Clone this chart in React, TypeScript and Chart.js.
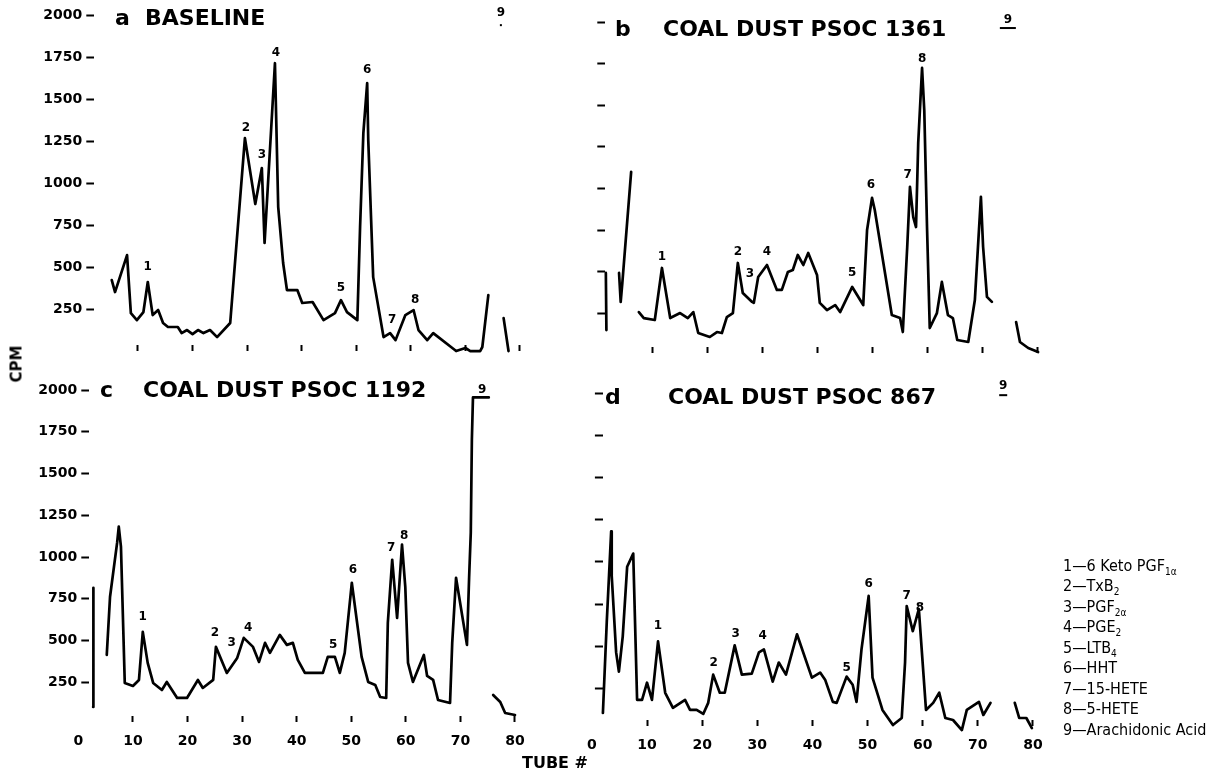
import React, { useEffect, useRef } from 'react';
import { Chart, registerables } from 'chart.js';
Chart.register(...registerables);

const PAGE_W = 1225;
const PAGE_H = 780;

// ---------- data (tube #, CPM); null = break in trace ----------
const tubesA = [5.2, 5.8, 8.0, 8.7, 9.8, 11.0, 11.8, 12.7, 13.7, 14.6, 15.5, 17.3, 18.0, 19.0, 20.0, 21.0, 22.0, 23.2, 24.5, 26.9, 29.6, 31.5, 32.7, 33.2, 35.1, 35.7, 36.6, 37.3, 39.2, 40.1, 42.0, 44.0, 46.1, 47.2, 48.3, 50.2, 50.7, 51.3, 52.0, 52.2, 53.1, 55.0, 56.2, 57.2, 59.0, 60.5, 61.4, 63.0, 64.1, 67.6, 68.3, 70.0, 70.9, 72.7, 73.1, 74.2, 75.5, 77.0, 77.9];
const cpmA = [422, 351, 571, 226, 184, 232, 411, 214, 244, 167, 143, 143, 107, 125, 101, 125, 107, 125, 83, 167, 1267, 875, 1089, 643, 1713, 857, 524, 363, 363, 286, 292, 184, 226, 303, 232, 184, 738, 1297, 1595, 1255, 440, 83, 107, 65, 214, 244, 125, 65, 107, 18, 0, 18, 0, 0, 24, 333, null, 196, 0];

const tubesB = [1.6, 1.7, 3.0, 4.0, 4.3, 4.6, 6.2, 7.0, 7.6, 8.5, 10.5, 11.8, 13.3, 15.1, 16.5, 17.5, 18.4, 20.5, 21.8, 22.7, 23.6, 24.7, 25.6, 26.5, 28.2, 28.5, 29.3, 30.9, 32.7, 33.6, 34.7, 35.6, 36.5, 37.5, 38.4, 40.0, 40.5, 41.8, 43.3, 44.2, 46.4, 48.4, 49.1, 50.0, 50.5, 53.6, 55.1, 55.6, 56.4, 56.9, 57.5, 58.0, 58.4, 59.1, 59.5, 60.0, 60.5, 61.8, 62.7, 63.8, 64.7, 65.5, 67.5, 68.7, 69.8, 70.2, 70.9, 71.8, 74.0, 76.2, 76.9, 78.4, 80.2];
const cpmB = [493, 150, null, 493, 319, 433, 1100, null, 258, 222, 210, 523, 222, 252, 222, 258, 132, 108, 138, 132, 228, 252, 553, 373, 319, 313, 469, 541, 391, 391, 499, 511, 601, 541, 613, 481, 313, 270, 300, 258, 409, 300, 751, 944, 871, 240, 222, 138, 649, 1010, 829, 769, 1274, 1725, 1472, 769, 162, 252, 439, 240, 222, 90, 78, 330, 950, 649, 349, 319, null, 198, 78, 42, 18];

const tubesC = [2.7, 2.75, 4.0, 5.2, 5.8, 7.1, 7.4, 7.8, 8.5, 10.0, 11.1, 11.8, 12.7, 13.7, 15.3, 16.2, 18.1, 19.9, 21.9, 22.8, 24.7, 25.2, 27.2, 29.1, 30.3, 32.0, 33.1, 34.2, 35.1, 36.9, 38.2, 39.3, 40.2, 41.5, 44.8, 45.7, 47.0, 47.9, 48.8, 50.1, 51.9, 53.1, 54.4, 55.3, 56.4, 56.7, 57.5, 58.4, 59.3, 59.9, 60.4, 61.3, 63.3, 63.9, 65.0, 65.9, 68.1, 68.5, 69.2, 71.2, 71.6, 71.9, 72.1, 72.3, 75.2, 75.6, 76.0, 77.3, 78.2, 80.0];
const cpmC = [102, 816, null, 414, 762, 1086, 1182, 1062, 246, 228, 264, 552, 366, 246, 204, 252, 156, 156, 264, 216, 264, 462, 306, 396, 516, 462, 372, 486, 426, 534, 474, 486, 384, 306, 306, 402, 402, 306, 426, 846, 402, 252, 234, 162, 156, 606, 984, 636, 1074, 822, 366, 252, 414, 288, 264, 144, 126, 486, 876, 474, 882, 1146, 1704, 1956, 1956, null, 174, 132, 66, 54];

const tubesD = [2.0, 2.7, 3.5, 3.6, 4.4, 4.9, 5.6, 6.4, 7.5, 8.2, 9.1, 10.0, 10.9, 12.0, 13.3, 14.7, 16.9, 17.8, 19.0, 20.2, 21.1, 22.0, 23.2, 24.1, 25.9, 27.2, 29.0, 30.3, 31.2, 32.8, 33.9, 35.2, 37.2, 39.9, 41.4, 42.3, 43.7, 44.4, 46.2, 47.3, 48.0, 48.9, 50.2, 50.9, 52.7, 54.6, 56.2, 56.8, 57.1, 58.2, 59.3, 60.6, 61.9, 63.0, 64.1, 65.5, 67.1, 68.0, 70.2, 71.0, 72.3, 74.5, 76.7, 77.5, 78.8, 79.8];
const cpmD = [102, 642, 1182, 918, 462, 348, 558, 972, 1050, 180, 180, 282, 180, 528, 222, 132, 180, 120, 120, 96, 162, 330, 222, 222, 504, 330, 336, 462, 480, 288, 402, 330, 570, 312, 342, 300, 168, 162, 318, 270, 168, 480, 798, 312, 120, 30, 72, 402, 738, 588, 720, 120, 162, 222, 72, 60, 0, 120, 168, 90, 162, null, 162, 72, 72, 12];

// peak identification numbers (placed at tube #, CPM)
const peakNames = ['1', '2', '3', '4', '5', '6', '7', '8', '9'];
const peakTubesA = [11.8, 29.8, 32.7, 35.3, 47.2, 52.0, 56.6, 60.8, 76.5];
const peakCpmA = [500, 1327, 1166, 1773, 375, 1672, 184, 303, 2011];
const peakTubesB = [11.8, 25.6, 27.8, 30.9, 46.4, 49.8, 56.5, 59.1, 74.7];
const peakCpmB = [589, 619, 487, 619, 493, 1022, 1082, 1779, 2013];
const peakTubesC = [11.8, 25.0, 28.1, 31.1, 46.7, 50.3, 57.3, 59.7, 74.0];
const peakCpmC = [642, 546, 486, 576, 474, 924, 1056, 1128, 2004];
const peakTubesD = [12.0, 22.1, 26.1, 31.0, 46.2, 50.2, 57.1, 59.5, 74.6];
const peakCpmD = [618, 402, 570, 558, 372, 870, 798, 726, 2046];

const cpmTicks = [250, 500, 750, 1000, 1250, 1500, 1750, 2000];
const tubeTicks = [10, 20, 30, 40, 50, 60, 70, 80];
const tubeLabelTicks = [0, 10, 20, 30, 40, 50, 60, 70, 80];

const legendNums = ['1', '2', '3', '4', '5', '6', '7', '8', '9'];
const legendNames = ['6 Keto PGF', 'TxB', 'PGF', 'PGE', 'LTB', 'HHT', '15-HETE', '5-HETE', 'Arachidonic Acid'];
const legendSubs = ['1\u03B1', '2', '2\u03B1', '2', '4', '', '', '', ''];

// ---------- layout ----------
type Panel = {
  tubes: number[]; cpm: (number | null)[];
  peakTubes: number[]; peakCpm: number[];
  area: { left: number; top: number; right: number; bottom: number };
  xMin: number; xMax: number; yMin: number; yMax: number;
  yLabels: boolean; xLabels: boolean; nineMark: number; nineMarkDy: number; xPad: number;
};

const panels: Panel[] = [
  { tubes: tubesA, cpm: cpmA, peakTubes: peakTubesA, peakCpm: peakCpmA,
    area: { left: 94.3, top: 15, right: 530.9, bottom: 345 }, xMin: 2, xMax: 82, yMin: 36, yMax: 2000,
    yLabels: true, xLabels: false, nineMark: 2, nineMarkDy: 12, xPad: 10 },
  { tubes: tubesB, cpm: cpmB, peakTubes: peakTubesB, peakCpm: peakCpmB,
    area: { left: 605.3, top: 22.2, right: 1048, bottom: 347 }, xMin: 1.5, xMax: 82, yMin: 48, yMax: 2000,
    yLabels: false, xLabels: false, nineMark: 16, nineMarkDy: 8, xPad: 10 },
  { tubes: tubesC, cpm: cpmC, peakTubes: peakTubesC, peakCpm: peakCpmC,
    area: { left: 89.3, top: 390.1, right: 525.9, bottom: 716 }, xMin: 2, xMax: 82, yMin: 48, yMax: 2000,
    yLabels: true, xLabels: true, nineMark: 0, nineMarkDy: 0, xPad: 11 },
  { tubes: tubesD, cpm: cpmD, peakTubes: peakTubesD, peakCpm: peakCpmD,
    area: { left: 602.9, top: 393.9, right: 1044, bottom: 720 }, xMin: 2, xMax: 82, yMin: 60, yMax: 2000,
    yLabels: false, xLabels: true, nineMark: 8, nineMarkDy: 9, xPad: 11 },
];

const tickFont = { family: '"DejaVu Sans", sans-serif', size: 14, weight: 'bold' as const };

const peakLabelPlugin = {
  id: 'peakLabels',
  afterDatasetsDraw(chart: any, _args: any, opts: any) {
    const { ctx } = chart;
    const xs = chart.scales.x;
    const ys = chart.scales.y;
    ctx.save();
    ctx.font = 'bold 12px "DejaVu Sans", sans-serif';
    ctx.fillStyle = '#000';
    ctx.textAlign = 'center';
    ctx.textBaseline = 'middle';
    (opts.names || []).forEach((n: string, i: number) => {
      const px = xs.getPixelForValue(opts.tubes[i]);
      const py = ys.getPixelForValue(opts.cpm[i]);
      ctx.fillText(n, px, py);
      if (n === '9' && opts.mark > 0) {
        ctx.fillRect(px - opts.mark / 2, py + opts.markDy - 1, opts.mark, 2);
      }
    });
    ctx.restore();
  },
};

function PanelChart({ p }: { p: Panel }) {
  const ref = useRef<HTMLCanvasElement | null>(null);
  useEffect(() => {
    if (!ref.current) return;
    const yW = p.yLabels ? 90 : 40;
    const xH = 40;
    const chart = new Chart(ref.current, {
      type: 'line',
      data: {
        datasets: [{
          data: p.tubes.map((t, i) => ({ x: t, y: p.cpm[i] })) as any,
          borderColor: '#000',
          borderWidth: 2.7,
          borderJoinStyle: 'round',
          borderCapStyle: 'round',
          pointRadius: 0,
          tension: 0,
          fill: false,
          spanGaps: false,
          clip: false as any,
        }],
      },
      options: {
        responsive: false,
        animation: false,
        events: [],
        layout: {
          padding: {
            left: p.area.left - yW,
            top: p.area.top,
            right: PAGE_W - p.area.right,
            bottom: PAGE_H - p.area.bottom - xH,
          },
        },
        plugins: {
          legend: { display: false },
          tooltip: { enabled: false },
          peakLabels: { names: peakNames, tubes: p.peakTubes, cpm: p.peakCpm, mark: p.nineMark, markDy: p.nineMarkDy },
        } as any,
        scales: {
          x: {
            type: 'linear',
            min: p.xMin,
            max: p.xMax,
            afterBuildTicks: (s: any) => { s.ticks = (p.xLabels ? tubeLabelTicks : tubeTicks).map((v) => ({ value: v })); },
            afterFit: (s: any) => { s.height = xH; s.paddingLeft = 0; s.paddingRight = 0; },
            border: { display: false },
            grid: {
              display: true, drawOnChartArea: false, drawTicks: true, tickLength: 6, tickWidth: 2,
              tickColor: (c: any) => (c.tick && c.tick.value === 0 ? 'rgba(0,0,0,0)' : '#000'),
            },
            ticks: {
              display: p.xLabels, autoSkip: false, maxRotation: 0, padding: p.xPad,
              color: '#000', font: tickFont, callback: (v: any) => String(v),
            },
          },
          y: {
            type: 'linear',
            min: p.yMin,
            max: p.yMax,
            afterBuildTicks: (s: any) => { s.ticks = cpmTicks.map((v) => ({ value: v })); },
            afterFit: (s: any) => { s.width = yW; s.paddingTop = 0; s.paddingBottom = 0; },
            border: { display: false },
            grid: { display: true, drawOnChartArea: false, drawTicks: true, tickLength: 8, tickWidth: 2, tickColor: '#000' },
            ticks: {
              display: p.yLabels, padding: 4, color: '#000', font: tickFont,
              callback: (v: any) => String(v),
            },
          },
        },
      },
      plugins: [peakLabelPlugin],
    });
    return () => chart.destroy();
  }, [p]);
  return (
    <canvas
      ref={ref}
      width={PAGE_W}
      height={PAGE_H}
      style={{ position: 'absolute', left: 0, top: 0, width: PAGE_W, height: PAGE_H }}
    />
  );
}

const titleStyle: React.CSSProperties = {
  position: 'absolute', fontFamily: '"DejaVu Sans", sans-serif', fontWeight: 'bold',
  fontSize: 22, lineHeight: '22px', whiteSpace: 'nowrap', color: '#000',
};

export default function App() {
  return (
    <div style={{ position: 'absolute', left: 0, top: 0, width: PAGE_W, height: PAGE_H, background: '#fff', overflow: 'hidden' }}>
      {panels.map((p, i) => <PanelChart key={i} p={p} />)}

      <div style={{ ...titleStyle, left: 115, top: 7.4 }}>a</div>
      <div style={{ ...titleStyle, left: 145, top: 7.4 }}>BASELINE</div>
      <div style={{ ...titleStyle, left: 615, top: 18.4 }}>b</div>
      <div style={{ ...titleStyle, left: 663, top: 18.4 }}>COAL DUST PSOC 1361</div>
      <div style={{ ...titleStyle, left: 100, top: 379.4 }}>c</div>
      <div style={{ ...titleStyle, left: 143, top: 379.4 }}>COAL DUST PSOC 1192</div>
      <div style={{ ...titleStyle, left: 605, top: 386.4 }}>d</div>
      <div style={{ ...titleStyle, left: 668, top: 386.4 }}>COAL DUST PSOC 867</div>

      <div style={{
        position: 'absolute', left: 17, top: 364, transform: 'translate(-50%, -50%) rotate(-90deg)',
        fontFamily: '"DejaVu Sans", sans-serif', fontWeight: 'bold', fontSize: 15, lineHeight: '15px', whiteSpace: 'nowrap',
      }}>CPM</div>
      <div style={{
        position: 'absolute', left: 522, top: 755,
        fontFamily: '"DejaVu Sans", sans-serif', fontWeight: 'bold', fontSize: 16, lineHeight: '16px', whiteSpace: 'nowrap',
      }}>TUBE #</div>

      <div style={{
        position: 'absolute', left: 1063, top: 555.75,
        fontFamily: '"DejaVu Sans Condensed", "DejaVu Sans", sans-serif', fontSize: 16, lineHeight: '20.5px', color: '#000', whiteSpace: 'nowrap',
      }}>
        {legendNums.map((n, i) => (
          <div key={n} style={{ height: 20.5 }}>
            {n}{'\u2014'}{legendNames[i]}
            {legendSubs[i] ? (
              <span style={{ fontSize: 10, verticalAlign: '-4px', lineHeight: 0 }}>{legendSubs[i]}</span>
            ) : null}
          </div>
        ))}
      </div>
    </div>
  );
}
